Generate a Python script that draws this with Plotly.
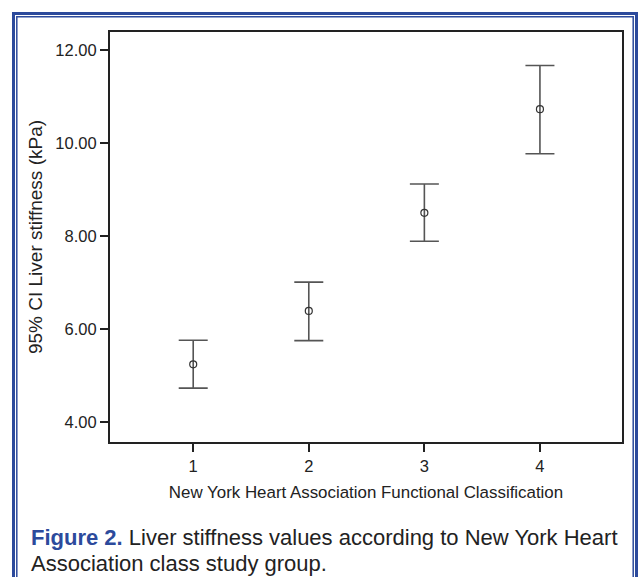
import plotly.graph_objects as go

categories = [1, 2, 3, 4]
means = [5.24, 6.39, 8.50, 10.73]
upper = [5.76, 7.01, 9.12, 11.67]
lower = [4.73, 5.75, 7.89, 9.77]
y_ticks = [4, 6, 8, 10, 12]
y_tick_labels = ["4.00", "6.00", "8.00", "10.00", "12.00"]

W, H = 643, 577
L, R, T, B = 110, 622, 32, 442

def px(x):
    return (x - L) / (R - L)

def py(y):
    return (B - y) / (B - T)

err_plus = [u - m for u, m in zip(upper, means)]
err_minus = [m - l for m, l in zip(means, lower)]

fig = go.Figure()
fig.add_trace(go.Scatter(
    x=categories, y=means, mode="markers",
    marker=dict(symbol="circle-open", size=7, color="#333333", line=dict(width=1.2, color="#333333")),
    error_y=dict(type="data", symmetric=False, array=err_plus, arrayminus=err_minus,
                 color="#555555", thickness=1.6, width=14.5),
    showlegend=False,
))

font_family = "Liberation Sans, Arial, Helvetica, sans-serif"
blue = "#2C4A9C"
ink = "#222222"

fig.update_layout(
    width=W, height=H,
    margin=dict(l=L, r=W - R, t=T, b=H - B),
    paper_bgcolor="white", plot_bgcolor="white",
    font=dict(family=font_family, color=ink),
    xaxis=dict(range=[0.28, 4.71], tickvals=categories, ticktext=[str(c) for c in categories],
               ticks="outside", ticklen=8, tickwidth=2, tickcolor=ink,
               showline=True, linewidth=2.2, linecolor=ink, mirror=True,
               showgrid=False, zeroline=False, tickfont=dict(size=16.5, color=ink),
               title=dict(text="New York Heart Association Functional Classification",
                          font=dict(size=16.9, color=ink), standoff=12)),
    yaxis=dict(range=[3.57, 12.39], tickvals=y_ticks, ticktext=y_tick_labels,
               ticks="outside", ticklen=8, tickwidth=2, tickcolor=ink,
               showline=True, linewidth=2.2, linecolor=ink, mirror=True,
               showgrid=False, zeroline=False, tickfont=dict(size=16.5, color=ink),
               title=dict(text="95% CI Liver stiffness (kPa)",
                          font=dict(size=19, color=ink), standoff=8)),
)

# double blue frame
fig.add_shape(type="rect", xref="paper", yref="paper",
              x0=px(13.5), x1=px(636.5), y0=py(600), y1=py(13.5),
              line=dict(color=blue, width=3), layer="above")
fig.add_shape(type="rect", xref="paper", yref="paper",
              x0=px(16.8), x1=px(633.2), y0=py(600), y1=py(16.8),
              line=dict(color=blue, width=1.5), layer="above")

caption_lines = [
    f"<b><span style='color:{blue}'>Figure 2.</span></b> Liver stiffness values according to New York Heart",
    "Association class study group.",
]
caption_y = [537, 563]
for txt, yy in zip(caption_lines, caption_y):
    fig.add_annotation(
        xref="paper", yref="paper", x=px(29), y=py(yy), xanchor="left", yanchor="middle",
        align="left", showarrow=False, text=txt,
        font=dict(size=22, color=ink, family=font_family),
    )

fig.write_html("out.html")
